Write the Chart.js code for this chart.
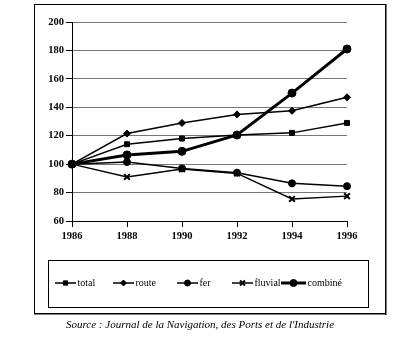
<!DOCTYPE html>
<html>
<head>
<meta charset="utf-8">
<script src="https://cdn.jsdelivr.net/npm/chart.js@4/dist/chart.umd.min.js"></script>
<style>
    html, body { margin: 0; padding: 0; background: #fff; }
    #wrap { position: relative; width: 401px; height: 340px; }
</style>
</head>
<body>
<div id="wrap"><canvas id="trafficChart" width="401" height="340"></canvas></div>
<script>
// Indices de trafic, base 100 en 1986
const years = ['1986', '1988', '1990', '1992', '1994', '1996'];
const totalValues = [100, 114, 118, 120.5, 122, 129];
const routeValues = [100, 121.5, 129, 135, 137.5, 147];
const ferValues = [100, 101.5, 97, 94, 86.5, 84.5];
const fluvialValues = [100, 91, 96.5, 93.5, 75.5, 77.5];
const combineValues = [100, 106.5, 109, 120.5, 150, 181];
const seriesNames = ['total', 'route', 'fer', 'fluvial', 'combiné'];

const serif = "'Liberation Serif', 'Times New Roman', serif";

function makeDataset(label, data, pointStyle, radius, lineWidth) {
    return {
        label: label,
        data: data,
        borderColor: '#000',
        backgroundColor: '#000',
        borderWidth: lineWidth,
        pointStyle: pointStyle,
        pointRadius: radius,
        pointBorderWidth: pointStyle === 'crossRot' ? 2 : 1,
        pointBackgroundColor: '#000',
        pointBorderColor: '#000',
        tension: 0
    };
}

// cadre, légende et source dessinés à la main
const framePlugin = {
    id: 'framePlugin',
    afterDraw(chart) {
        const ctx = chart.ctx;
        ctx.save();
        ctx.strokeStyle = '#000';
        ctx.lineWidth = 1;
        ctx.strokeRect(34.5, 4.5, 351, 309);
        ctx.fillStyle = '#000';
        ctx.fillRect(385, 4, 1.5, 311);
        ctx.fillRect(34, 313, 352, 1.5);

        // boîte de légende
        ctx.strokeRect(48.5, 260.5, 320, 47);
        const slots = [55, 113, 177, 232, 281];
        const ly = 283;
        ctx.font = '10px ' + serif;
        ctx.textBaseline = 'middle';
        chart.data.datasets.forEach((ds, i) => {
            const x0 = slots[i];
            const len = ds.borderWidth > 2 ? 25 : 21;
            ctx.lineWidth = ds.borderWidth;
            ctx.beginPath();
            ctx.moveTo(x0, ly);
            ctx.lineTo(x0 + len, ly);
            ctx.stroke();
            ctx.lineWidth = ds.pointBorderWidth;
            Chart.helpers.drawPoint(ctx, {
                pointStyle: ds.pointStyle,
                radius: ds.pointRadius - 0.5,
                borderWidth: ds.pointBorderWidth
            }, x0 + len / 2, ly);
            ctx.fillText(ds.label, x0 + len + 1.5, ly);
        });

        ctx.font = 'italic 11px ' + serif;
        ctx.textAlign = 'center';
        ctx.fillText("Source : Journal de la Navigation, des Ports et de l'Industrie", 200, 325);
        ctx.restore();
    }
};

const ctx = document.getElementById('trafficChart').getContext('2d');
const trafficChart = new Chart(ctx, {
    type: 'line',
    data: {
        labels: years,
        datasets: [
            makeDataset(seriesNames[0], totalValues, 'rect', 3.5, 1.5),
            makeDataset(seriesNames[1], routeValues, 'rectRot', 3.5, 1.5),
            makeDataset(seriesNames[2], ferValues, 'circle', 3.5, 1.5),
            makeDataset(seriesNames[3], fluvialValues, 'crossRot', 4, 1.5),
            makeDataset(seriesNames[4], combineValues, 'circle', 4, 3)
        ]
    },
    options: {
        responsive: false,
        animation: false,
        layout: {
            padding: { left: 34, right: 54, top: 22, bottom: 94 }
        },
        plugins: {
            legend: { display: false },
            tooltip: { enabled: false }
        },
        scales: {
            x: {
                offset: false,
                afterFit(scale) { scale.height = 25; },
                border: { color: '#000', width: 1 },
                grid: {
                    drawOnChartArea: false,
                    tickLength: 6,
                    tickColor: '#000'
                },
                ticks: {
                    color: '#000',
                    padding: 3,
                    maxRotation: 0,
                    font: { family: serif, size: 10.5, weight: 'bold' }
                }
            },
            y: {
                min: 60,
                max: 200,
                afterFit(scale) { scale.width = 38; },
                border: { color: '#000', width: 1 },
                grid: {
                    color: '#777',
                    borderDash: [1.5, 7],
                    tickLength: 6,
                    tickColor: '#000',
                    tickBorderDash: []
                },
                ticks: {
                    stepSize: 20,
                    color: '#000',
                    padding: 2,
                    font: { family: serif, size: 10.5, weight: 'bold' }
                }
            }
        }
    },
    plugins: [framePlugin]
});
</script>
</body>
</html>
